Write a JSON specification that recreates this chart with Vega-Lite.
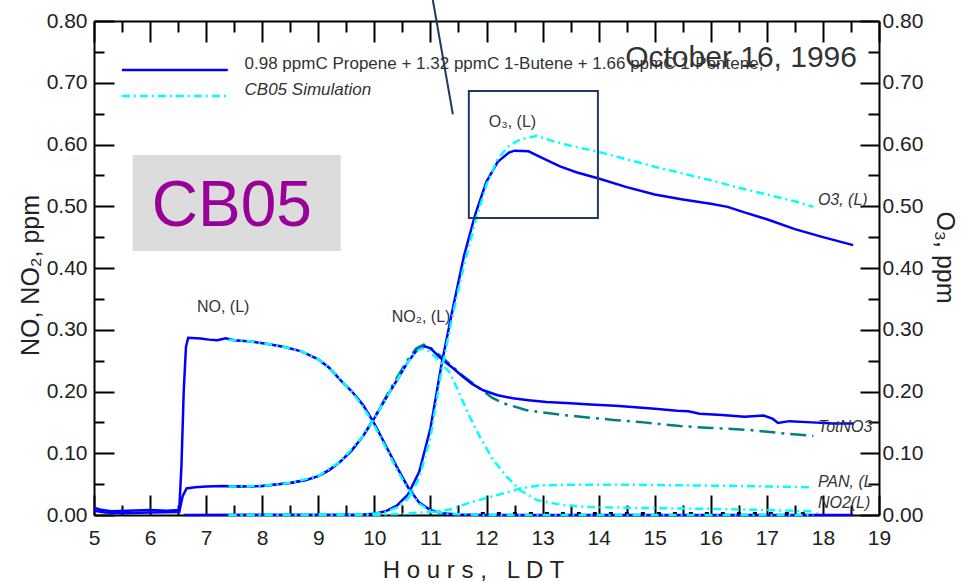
{
  "$schema": "https://vega.github.io/schema/vega-lite/v6.json",
  "width": 785,
  "height": 494,
  "autosize": {"type": "none"},
  "padding": {"left": 94, "top": 21, "right": 83, "bottom": 67},
  "background": "white",
  "config": {
    "view": {"stroke": null},
    "axis": {
      "grid": false,
      "domainColor": "black",
      "domainWidth": 2,
      "tickColor": "black",
      "tickWidth": 2,
      "labelFont": "Liberation Sans",
      "titleFont": "Liberation Sans",
      "labelColor": "#222",
      "titleColor": "#222",
      "titleFontWeight": "normal",
      "labelFontSize": 21,
      "titleFontSize": 25,
      "labelFlush": false,
      "labelOverlap": false
    },
    "text": {"font": "Liberation Sans"}
  },
  "datasets": {
    "blue": [
      {"s":"NO","h":5.0,"v":0.012},{"s":"NO","h":5.1,"v":0.009},{"s":"NO","h":5.3,"v":0.006},{"s":"NO","h":5.6,"v":0.007},{"s":"NO","h":6.0,"v":0.008},{"s":"NO","h":6.3,"v":0.007},{"s":"NO","h":6.52,"v":0.008},{"s":"NO","h":6.56,"v":0.08},{"s":"NO","h":6.6,"v":0.2},{"s":"NO","h":6.64,"v":0.272},{"s":"NO","h":6.68,"v":0.287},{"s":"NO","h":6.9,"v":0.286},{"s":"NO","h":7.05,"v":0.284},{"s":"NO","h":7.2,"v":0.283},{"s":"NO","h":7.35,"v":0.286},{"s":"NO","h":7.5,"v":0.283},{"s":"NO","h":7.8,"v":0.281},{"s":"NO","h":8.1,"v":0.277},{"s":"NO","h":8.4,"v":0.272},{"s":"NO","h":8.7,"v":0.265},{"s":"NO","h":9.0,"v":0.252},{"s":"NO","h":9.2,"v":0.238},{"s":"NO","h":9.4,"v":0.218},{"s":"NO","h":9.6,"v":0.2},{"s":"NO","h":9.8,"v":0.178},{"s":"NO","h":10.0,"v":0.148},{"s":"NO","h":10.2,"v":0.113},{"s":"NO","h":10.4,"v":0.078},{"s":"NO","h":10.6,"v":0.045},{"s":"NO","h":10.8,"v":0.02},{"s":"NO","h":11.0,"v":0.008},{"s":"NO","h":11.2,"v":0.003},{"s":"NO","h":11.5,"v":0.001},{"s":"NO","h":12.0,"v":0.0},{"s":"NO","h":18.54,"v":0.0},
      {"s":"NO2","h":5.0,"v":0.007},{"s":"NO2","h":5.2,"v":0.004},{"s":"NO2","h":5.5,"v":0.003},{"s":"NO2","h":6.0,"v":0.004},{"s":"NO2","h":6.52,"v":0.005},{"s":"NO2","h":6.58,"v":0.03},{"s":"NO2","h":6.65,"v":0.043},{"s":"NO2","h":6.8,"v":0.045},{"s":"NO2","h":7.0,"v":0.046},{"s":"NO2","h":7.3,"v":0.047},{"s":"NO2","h":7.6,"v":0.046},{"s":"NO2","h":8.0,"v":0.047},{"s":"NO2","h":8.5,"v":0.052},{"s":"NO2","h":8.8,"v":0.057},{"s":"NO2","h":9.0,"v":0.063},{"s":"NO2","h":9.2,"v":0.073},{"s":"NO2","h":9.4,"v":0.087},{"s":"NO2","h":9.6,"v":0.105},{"s":"NO2","h":9.8,"v":0.128},{"s":"NO2","h":10.0,"v":0.157},{"s":"NO2","h":10.2,"v":0.188},{"s":"NO2","h":10.4,"v":0.218},{"s":"NO2","h":10.6,"v":0.248},{"s":"NO2","h":10.75,"v":0.266},{"s":"NO2","h":10.9,"v":0.273},{"s":"NO2","h":11.0,"v":0.27},{"s":"NO2","h":11.22,"v":0.251},{"s":"NO2","h":11.4,"v":0.238},{"s":"NO2","h":11.58,"v":0.224},{"s":"NO2","h":11.75,"v":0.212},{"s":"NO2","h":11.94,"v":0.202},{"s":"NO2","h":12.2,"v":0.194},{"s":"NO2","h":12.47,"v":0.189},{"s":"NO2","h":12.75,"v":0.186},{"s":"NO2","h":13.07,"v":0.183},{"s":"NO2","h":13.5,"v":0.181},{"s":"NO2","h":13.85,"v":0.179},{"s":"NO2","h":14.3,"v":0.177},{"s":"NO2","h":14.6,"v":0.175},{"s":"NO2","h":15.0,"v":0.172},{"s":"NO2","h":15.4,"v":0.169},{"s":"NO2","h":15.6,"v":0.168},{"s":"NO2","h":15.8,"v":0.164},{"s":"NO2","h":16.2,"v":0.162},{"s":"NO2","h":16.6,"v":0.159},{"s":"NO2","h":16.94,"v":0.161},{"s":"NO2","h":17.1,"v":0.156},{"s":"NO2","h":17.2,"v":0.149},{"s":"NO2","h":17.4,"v":0.152},{"s":"NO2","h":17.8,"v":0.15},{"s":"NO2","h":18.2,"v":0.148},{"s":"NO2","h":18.54,"v":0.148},
      {"s":"O3","h":6.6,"v":0.0},{"s":"O3","h":9.8,"v":0.001},{"s":"O3","h":10.0,"v":0.002},{"s":"O3","h":10.2,"v":0.006},{"s":"O3","h":10.4,"v":0.015},{"s":"O3","h":10.6,"v":0.033},{"s":"O3","h":10.8,"v":0.07},{"s":"O3","h":11.0,"v":0.14},{"s":"O3","h":11.2,"v":0.245},{"s":"O3","h":11.4,"v":0.335},{"s":"O3","h":11.6,"v":0.42},{"s":"O3","h":11.8,"v":0.487},{"s":"O3","h":12.0,"v":0.54},{"s":"O3","h":12.2,"v":0.572},{"s":"O3","h":12.4,"v":0.587},{"s":"O3","h":12.5,"v":0.59},{"s":"O3","h":12.75,"v":0.589},{"s":"O3","h":13.0,"v":0.578},{"s":"O3","h":13.3,"v":0.565},{"s":"O3","h":13.6,"v":0.555},{"s":"O3","h":14.0,"v":0.545},{"s":"O3","h":14.5,"v":0.531},{"s":"O3","h":15.0,"v":0.519},{"s":"O3","h":15.5,"v":0.511},{"s":"O3","h":16.0,"v":0.504},{"s":"O3","h":16.3,"v":0.499},{"s":"O3","h":16.6,"v":0.49},{"s":"O3","h":17.0,"v":0.479},{"s":"O3","h":17.5,"v":0.463},{"s":"O3","h":18.0,"v":0.45},{"s":"O3","h":18.54,"v":0.437}
    ],
    "teal": [
      {"s":"TotNO3","h":7.4,"v":0.046},{"s":"TotNO3","h":8.0,"v":0.047},{"s":"TotNO3","h":8.5,"v":0.052},{"s":"TotNO3","h":8.8,"v":0.057},{"s":"TotNO3","h":9.0,"v":0.063},{"s":"TotNO3","h":9.2,"v":0.073},{"s":"TotNO3","h":9.4,"v":0.087},{"s":"TotNO3","h":9.6,"v":0.105},{"s":"TotNO3","h":9.8,"v":0.128},{"s":"TotNO3","h":10.0,"v":0.157},{"s":"TotNO3","h":10.2,"v":0.19},{"s":"TotNO3","h":10.4,"v":0.222},{"s":"TotNO3","h":10.6,"v":0.252},{"s":"TotNO3","h":10.75,"v":0.27},{"s":"TotNO3","h":10.88,"v":0.276},{"s":"TotNO3","h":11.0,"v":0.271},{"s":"TotNO3","h":11.2,"v":0.256},{"s":"TotNO3","h":11.4,"v":0.24},{"s":"TotNO3","h":11.6,"v":0.224},{"s":"TotNO3","h":11.88,"v":0.205},{"s":"TotNO3","h":12.1,"v":0.19},{"s":"TotNO3","h":12.3,"v":0.181},{"s":"TotNO3","h":12.7,"v":0.17},{"s":"TotNO3","h":13.0,"v":0.166},{"s":"TotNO3","h":13.37,"v":0.162},{"s":"TotNO3","h":13.8,"v":0.158},{"s":"TotNO3","h":14.26,"v":0.154},{"s":"TotNO3","h":14.8,"v":0.15},{"s":"TotNO3","h":15.45,"v":0.144},{"s":"TotNO3","h":16.0,"v":0.141},{"s":"TotNO3","h":16.65,"v":0.138},{"s":"TotNO3","h":17.2,"v":0.133},{"s":"TotNO3","h":17.83,"v":0.128}
    ],
    "cyan": [
      {"s":"NO","h":7.4,"v":0.284},{"s":"NO","h":7.8,"v":0.281},{"s":"NO","h":8.1,"v":0.277},{"s":"NO","h":8.4,"v":0.272},{"s":"NO","h":8.7,"v":0.265},{"s":"NO","h":9.0,"v":0.252},{"s":"NO","h":9.2,"v":0.238},{"s":"NO","h":9.4,"v":0.219},{"s":"NO","h":9.6,"v":0.199},{"s":"NO","h":9.8,"v":0.175},{"s":"NO","h":10.0,"v":0.145},{"s":"NO","h":10.2,"v":0.11},{"s":"NO","h":10.4,"v":0.074},{"s":"NO","h":10.6,"v":0.042},{"s":"NO","h":10.8,"v":0.018},{"s":"NO","h":11.0,"v":0.007},{"s":"NO","h":11.3,"v":0.002},{"s":"NO","h":12.0,"v":0.0},{"s":"NO","h":17.83,"v":0.0},
      {"s":"NO2","h":7.4,"v":0.046},{"s":"NO2","h":8.0,"v":0.047},{"s":"NO2","h":8.5,"v":0.052},{"s":"NO2","h":9.0,"v":0.063},{"s":"NO2","h":9.4,"v":0.087},{"s":"NO2","h":9.8,"v":0.128},{"s":"NO2","h":10.0,"v":0.156},{"s":"NO2","h":10.2,"v":0.188},{"s":"NO2","h":10.4,"v":0.218},{"s":"NO2","h":10.6,"v":0.248},{"s":"NO2","h":10.75,"v":0.265},{"s":"NO2","h":10.85,"v":0.27},{"s":"NO2","h":10.95,"v":0.267},{"s":"NO2","h":11.1,"v":0.255},{"s":"NO2","h":11.35,"v":0.23},{"s":"NO2","h":11.5,"v":0.2},{"s":"NO2","h":11.7,"v":0.159},{"s":"NO2","h":11.88,"v":0.127},{"s":"NO2","h":12.12,"v":0.089},{"s":"NO2","h":12.36,"v":0.062},{"s":"NO2","h":12.6,"v":0.04},{"s":"NO2","h":12.9,"v":0.024},{"s":"NO2","h":13.37,"v":0.016},{"s":"NO2","h":13.8,"v":0.013},{"s":"NO2","h":15.0,"v":0.011},{"s":"NO2","h":16.0,"v":0.01},{"s":"NO2","h":17.0,"v":0.008},{"s":"NO2","h":17.8,"v":0.006},
      {"s":"O3","h":7.4,"v":0.0},{"s":"O3","h":9.8,"v":0.001},{"s":"O3","h":10.0,"v":0.002},{"s":"O3","h":10.2,"v":0.005},{"s":"O3","h":10.4,"v":0.012},{"s":"O3","h":10.6,"v":0.027},{"s":"O3","h":10.8,"v":0.06},{"s":"O3","h":11.0,"v":0.125},{"s":"O3","h":11.2,"v":0.235},{"s":"O3","h":11.4,"v":0.325},{"s":"O3","h":11.6,"v":0.405},{"s":"O3","h":11.8,"v":0.475},{"s":"O3","h":12.0,"v":0.535},{"s":"O3","h":12.2,"v":0.577},{"s":"O3","h":12.4,"v":0.598},{"s":"O3","h":12.6,"v":0.608},{"s":"O3","h":12.9,"v":0.614},{"s":"O3","h":13.2,"v":0.605},{"s":"O3","h":13.5,"v":0.598},{"s":"O3","h":14.0,"v":0.588},{"s":"O3","h":14.5,"v":0.576},{"s":"O3","h":15.0,"v":0.564},{"s":"O3","h":15.5,"v":0.553},{"s":"O3","h":16.0,"v":0.542},{"s":"O3","h":16.5,"v":0.53},{"s":"O3","h":17.0,"v":0.519},{"s":"O3","h":17.5,"v":0.508},{"s":"O3","h":17.83,"v":0.499},
      {"s":"PAN","h":7.4,"v":0.0},{"s":"PAN","h":10.0,"v":0.0},{"s":"PAN","h":10.5,"v":0.002},{"s":"PAN","h":11.0,"v":0.005},{"s":"PAN","h":11.35,"v":0.009},{"s":"PAN","h":11.7,"v":0.02},{"s":"PAN","h":12.18,"v":0.032},{"s":"PAN","h":12.6,"v":0.043},{"s":"PAN","h":12.95,"v":0.048},{"s":"PAN","h":13.5,"v":0.049},{"s":"PAN","h":14.5,"v":0.049},{"s":"PAN","h":15.5,"v":0.048},{"s":"PAN","h":16.5,"v":0.047},{"s":"PAN","h":17.8,"v":0.045}
    ],
    "black": [
      {"s":"PANobs","h":11.9,"v":0.003},{"s":"PANobs","h":17.9,"v":0.003}
    ]
  },
  "layer": [
    {
      "data": {"values": [{"x1": 5.69, "x2": 9.40, "y1": 0.583, "y2": 0.4275}]},
      "mark": {"type": "rect", "color": "#dcdcdc"},
      "encoding": {
        "x": {"field": "x1", "type": "quantitative", "axis": null, "scale": {"domain": [5, 19], "nice": false, "zero": false}},
        "x2": {"field": "x2"},
        "y": {"field": "y1", "type": "quantitative", "axis": null, "scale": {"domain": [0, 0.8], "nice": false, "zero": false}},
        "y2": {"field": "y2"}
      }
    },
    {
      "data": {"values": [{"h": 7.457, "v": 0.498, "t": "CB05"}]},
      "mark": {"type": "text", "fontSize": 64, "color": "#990099", "align": "center", "baseline": "middle"},
      "encoding": {
        "x": {"field": "h", "type": "quantitative", "axis": null},
        "y": {"field": "v", "type": "quantitative", "axis": null},
        "text": {"field": "t"}
      }
    },
    {
      "data": {"values": [
        {"h": 6.836, "v": 0.337, "t": "NO, (L)"},
        {"h": 10.31, "v": 0.321, "t": "NO₂, (L)"},
        {"h": 12.04, "v": 0.636, "t": "O₃, (L)"}
      ]},
      "mark": {"type": "text", "fontSize": 16, "color": "#333", "baseline": "middle", "align": "left"},
      "encoding": {
        "x": {"field": "h", "type": "quantitative", "axis": null},
        "y": {"field": "v", "type": "quantitative", "axis": null},
        "text": {"field": "t"}
      }
    },
    {
      "data": {"name": "teal"},
      "mark": {"type": "line", "color": "#008080", "strokeWidth": 2.5, "strokeDash": [16, 6, 3, 6], "clip": false},
      "encoding": {
        "x": {"field": "h", "type": "quantitative", "scale": {"domain": [5, 19], "nice": false, "zero": false},
          "axis": {"orient": "bottom", "values": [5.5,6.5,7.5,8.5,9.5,10.5,11.5,12.5,13.5,14.5,15.5,16.5,17.5,18.5], "tickSize": -10, "labels": false, "title": null, "domain": false}},
        "y": {"field": "v", "type": "quantitative", "scale": {"domain": [0, 0.8], "nice": false, "zero": false},
          "axis": {"orient": "left", "values": [0.05,0.15,0.25,0.35,0.45,0.55,0.65,0.75], "tickSize": -10, "labels": false, "title": null, "domain": false}},
        "detail": {"field": "s"}
      }
    },
    {
      "data": {"name": "blue"},
      "mark": {"type": "line", "color": "#0000ff", "strokeWidth": 2.5},
      "encoding": {
        "x": {"field": "h", "type": "quantitative",
          "axis": {"orient": "bottom", "values": [5,6,7,8,9,10,11,12,13,14,15,16,17,18,19], "tickSize": -20, "labelPadding": 32,
            "title": "H o u r s ,\u00a0\u00a0 L D T", "titleFontSize": 24, "titleX": 379, "titleY": 55, "titleAlign": "center", "titleBaseline": "middle", "titleAngle": 0}},
        "y": {"field": "v", "type": "quantitative",
          "axis": {"orient": "left", "values": [0,0.1,0.2,0.3,0.4,0.5,0.6,0.7,0.8], "format": ".2f", "tickSize": -20, "labelPadding": 27,
            "title": "NO, NO₂, ppm", "titleX": -64, "titleY": 254, "titleAngle": -90, "titleAlign": "center", "titleBaseline": "middle"}},
        "detail": {"field": "s"}
      }
    },
    {
      "data": {"name": "black"},
      "mark": {"type": "line", "color": "black", "strokeWidth": 2.5, "strokeDash": [4, 12]},
      "encoding": {
        "x": {"field": "h", "type": "quantitative",
          "axis": {"orient": "top", "values": [5.5,6.5,7.5,8.5,9.5,10.5,11.5,12.5,13.5,14.5,15.5,16.5,17.5,18.5], "tickSize": -11, "labels": false, "title": null, "domain": false}},
        "y": {"field": "v", "type": "quantitative",
          "axis": {"orient": "right", "values": [0.05,0.15,0.25,0.35,0.45,0.55,0.65,0.75], "tickSize": -11, "labels": false, "title": null, "domain": false}},
        "detail": {"field": "s"}
      }
    },
    {
      "data": {"name": "cyan"},
      "mark": {"type": "line", "color": "#00ffff", "strokeWidth": 2.5, "strokeDash": [8, 4, 2, 4]},
      "encoding": {
        "x": {"field": "h", "type": "quantitative",
          "axis": {"orient": "top", "values": [5,6,7,8,9,10,11,12,13,14,15,16,17,18,19], "tickSize": -21, "labels": false, "title": null}},
        "y": {"field": "v", "type": "quantitative",
          "axis": {"orient": "right", "values": [0,0.1,0.2,0.3,0.4,0.5,0.6,0.7,0.8], "format": ".2f", "tickSize": -19, "labelPadding": 22,
            "title": "O₃, ppm", "titleX": 65, "titleY": 236, "titleAngle": 90, "titleAlign": "center", "titleBaseline": "middle"}},
        "detail": {"field": "s"}
      }
    },
    {
      "data": {"values": [
        {"h": 17.91, "v": 0.510, "t": "O3, (L)"},
        {"h": 17.91, "v": 0.1425, "t": "TotNO3"},
        {"h": 17.91, "v": 0.0534, "t": "PAN, (L"},
        {"h": 17.91, "v": 0.0194, "t": "NO2(L)"}
      ]},
      "mark": {"type": "text", "fontSize": 16, "fontStyle": "italic", "color": "#333", "align": "left", "baseline": "middle"},
      "encoding": {
        "x": {"field": "h", "type": "quantitative", "axis": null},
        "y": {"field": "v", "type": "quantitative", "axis": null},
        "text": {"field": "t"}
      }
    },
    {
      "data": {"values": [{"x1": 11.685, "x2": 13.987, "y1": 0.6866, "y2": 0.481}]},
      "mark": {"type": "rect", "fill": null, "fillOpacity": 0, "stroke": "#1f3864", "strokeWidth": 2},
      "encoding": {
        "x": {"field": "x1", "type": "quantitative", "axis": null},
        "x2": {"field": "x2"},
        "y": {"field": "y1", "type": "quantitative", "axis": null},
        "y2": {"field": "y2"}
      }
    },
    {
      "data": {"values": [{"x1": 11.043, "x2": 11.40, "y1": 0.834, "y2": 0.649}]},
      "mark": {"type": "rule", "color": "#1f3864", "strokeWidth": 2, "clip": false},
      "encoding": {
        "x": {"field": "x1", "type": "quantitative", "axis": null},
        "x2": {"field": "x2"},
        "y": {"field": "y1", "type": "quantitative", "axis": null},
        "y2": {"field": "y2"}
      }
    },
    {
      "data": {"values": [{"x1": 5.497, "x2": 7.386, "y": 0.7206}]},
      "mark": {"type": "rule", "color": "#0000ff", "strokeWidth": 2.5},
      "encoding": {
        "x": {"field": "x1", "type": "quantitative", "axis": null},
        "x2": {"field": "x2"},
        "y": {"field": "y", "type": "quantitative", "axis": null}
      }
    },
    {
      "data": {"values": [{"x1": 5.497, "x2": 7.386, "y": 0.6785}]},
      "mark": {"type": "rule", "color": "#00ffff", "strokeWidth": 2.5, "strokeDash": [8, 4, 2, 4]},
      "encoding": {
        "x": {"field": "x1", "type": "quantitative", "axis": null},
        "x2": {"field": "x2"},
        "y": {"field": "y", "type": "quantitative", "axis": null}
      }
    },
    {
      "data": {"values": [
        {"h": 7.685, "v": 0.730, "t": "0.98 ppmC Propene + 1.32 ppmC 1-Butene + 1.66 ppmC 1-Pentene,"}
      ]},
      "mark": {"type": "text", "fontSize": 17, "color": "#333", "align": "left", "baseline": "middle"},
      "encoding": {
        "x": {"field": "h", "type": "quantitative", "axis": null},
        "y": {"field": "v", "type": "quantitative", "axis": null},
        "text": {"field": "t"}
      }
    },
    {
      "data": {"values": [{"h": 7.685, "v": 0.688, "t": "CB05 Simulation"}]},
      "mark": {"type": "text", "fontSize": 17, "fontStyle": "italic", "color": "#333", "align": "left", "baseline": "middle"},
      "encoding": {
        "x": {"field": "h", "type": "quantitative", "axis": null},
        "y": {"field": "v", "type": "quantitative", "axis": null},
        "text": {"field": "t"}
      }
    },
    {
      "data": {"values": [{"h": 16.54, "v": 0.740, "t": "October 16, 1996"}]},
      "mark": {"type": "text", "fontSize": 30, "color": "#333", "align": "center", "baseline": "middle"},
      "encoding": {
        "x": {"field": "h", "type": "quantitative", "axis": null},
        "y": {"field": "v", "type": "quantitative", "axis": null},
        "text": {"field": "t"}
      }
    }
  ],
  "resolve": {"axis": {"x": "independent", "y": "independent"}}
}
